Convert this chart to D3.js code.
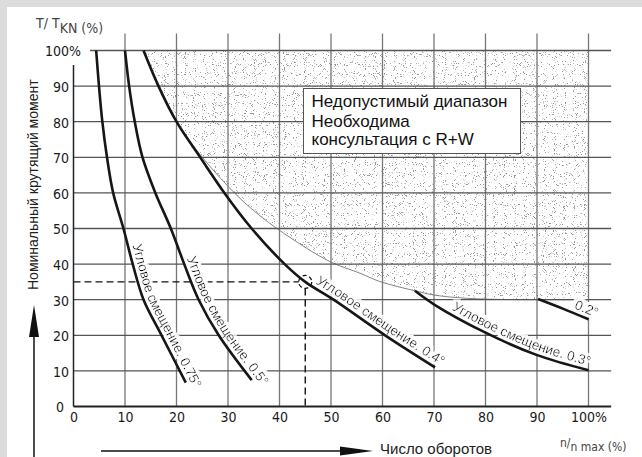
<!DOCTYPE html>
<html>
<head>
<meta charset="utf-8">
<script src="https://cdn.jsdelivr.net/npm/d3@7"></script>
<style>
	body{ margin: 0; background: #dcdcdc; }
	svg{ display: block; }
	.tick text{
		font-family: "DejaVu Sans Condensed", "DejaVu Sans", sans-serif;
		font-size: 14px; fill: #1a1a1a;
	}
	.clabel{ font-family: "Liberation Sans", Arial, sans-serif; font-size: 13.5px; fill: #111; }
</style>
</head>
<body>
<svg id="chart" width="642" height="457"></svg>
<script>
// ticks (percent)
const xTicks = [0, 10, 20, 30, 40, 50, 60, 70, 80, 90, 100];
const yTicks = [0, 10, 20, 30, 40, 50, 60, 70, 80, 90, 100];

// curves: [n/nmax %, T/TKN %]
const curve075 = [[4.4,100],[4.95,90],[5.6,80],[6.5,70],[7.7,60],[9.7,50],[11.5,40],[13.6,30],[17.1,20],[21.8,6.7]];
const curve05  = [[10,100],[10.8,90],[11.9,80],[13.4,70],[15.9,60],[18.9,50],[21.5,40],[24.3,30],[28.2,20],[34.6,7.4]];
const curve04  = [[13.6,100],[16.5,90],[20,80],[24.6,70],[29.3,60],[34.6,50],[41,40],[45,35],[50.5,30],[60.5,20],[70.2,11]];
const curve03  = [[66.3,32.5],[70.2,28.5],[80.2,20.6],[89.9,14.5],[100,10.2]];
const curve02  = [[90.2,30.2],[95,27.5],[100,24.5]];
// lower edge of the forbidden (stippled) range
const limitEdge = [[13.6,100],[16.5,90],[20,80],[23.9,72],[30.1,61.7],[35,55],[41,48.5],[49.8,40.7],[55.7,37.4],[59.5,35.1],[66.3,32.5],[70,31.3],[76.3,30.4],[82,30.1],[90,30],[100,30]];
// example operating point
const markPoint = [45, 35];

const curveLabels = ['Угловое смещение. 0.75°', 'Угловое смещение. 0.5°', 'Угловое смещение. 0.4°', 'Угловое смещение. 0.3°', '0.2°'];
const curveData = [curve075, curve05, curve04, curve03, curve02];
const labelStart = [10.6, 21.2, 46.5, 73, 96.8];   // n/nmax where the label begins

const boxLines = ['Недопустимый диапазон', 'Необходима', 'консультация с R+W'];

const svg = d3.select('#chart');
const x = d3.scaleLinear().domain([0, 100]).range([73.5, 588.5]);
const y = d3.scaleLinear().domain([0, 100]).range([406.5, 50.5]);

svg.append('rect').attr('x', 7).attr('y', 7).attr('width', 635).attr('height', 450).attr('fill', '#fff');

const defs = svg.append('defs');
// stipple texture
const f = defs.append('filter').attr('id', 'stip').attr('x', 0).attr('y', 0).attr('width', 1).attr('height', 1);
f.append('feTurbulence').attr('type', 'fractalNoise').attr('baseFrequency', 1.1)
	.attr('numOctaves', 1).attr('seed', 4).attr('result', 't');
f.append('feColorMatrix').attr('in', 't').attr('type', 'matrix')
	.attr('values', '0 0 0 0 0.3  0 0 0 0 0.3  0 0 0 0 0.3  -12 0 0 0 4.55');
// white halo behind curve labels
const h = defs.append('filter').attr('id', 'halo').attr('x', '-20%').attr('y', '-20%').attr('width', '140%').attr('height', '140%');
h.append('feMorphology').attr('in', 'SourceAlpha').attr('operator', 'dilate').attr('radius', 3).attr('result', 'd');
h.append('feFlood').attr('flood-color', '#fff');
h.append('feComposite').attr('in2', 'd').attr('operator', 'in').attr('result', 'w');
const hm = h.append('feMerge');
hm.append('feMergeNode').attr('in', 'w');
hm.append('feMergeNode').attr('in', 'SourceGraphic');

const line = d3.line().x(d => x(d[0])).y(d => y(d[1])).curve(d3.curveCatmullRom.alpha(0.5));

defs.append('clipPath').attr('id', 'forbid')
	.append('path').attr('d', line(limitEdge) + 'L' + x(100) + ',' + y(100) + 'Z');

svg.append('g').attr('clip-path', 'url(#forbid)')
	.append('rect').attr('x', x(0)).attr('y', y(100)).attr('width', x(100) - x(0)).attr('height', y(0) - y(100))
	.attr('filter', 'url(#stip)');

svg.append('path').attr('d', line(limitEdge)).attr('fill', 'none').attr('stroke', '#666').attr('stroke-width', 0.8);

// grid
const grid = svg.append('g');
grid.selectAll('.vg').data(xTicks.filter(d => d > 0)).enter().append('line')
	.attr('x1', d => x(d)).attr('x2', d => x(d)).attr('y1', y(0)).attr('y2', y(104.8))
	.attr('stroke', '#777').attr('stroke-width', 1.3);
grid.selectAll('.hg').data(yTicks.filter(d => d > 0)).enter().append('line')
	.attr('x1', d => d === 100 ? x(3.2) : x(0)).attr('x2', x(104.4)).attr('y1', d => y(d)).attr('y2', d => y(d))
	.attr('stroke', '#555').attr('stroke-width', 1.3);

// dashed guide to the operating point
const r = 6.5;
svg.append('line').attr('x1', x(0)).attr('x2', x(markPoint[0]) - r).attr('y1', y(markPoint[1])).attr('y2', y(markPoint[1]))
	.attr('stroke', '#111').attr('stroke-width', 1.4).attr('stroke-dasharray', '7,4');
svg.append('line').attr('x1', x(markPoint[0])).attr('x2', x(markPoint[0])).attr('y1', y(markPoint[1]) + r).attr('y2', y(0))
	.attr('stroke', '#111').attr('stroke-width', 1.4).attr('stroke-dasharray', '7,4');

// curve labels along the curves
const lab = svg.append('g');
curveData.forEach((c, i) => {
	const pts = c.map(d => [x(d[0]), y(d[1])]);
	const a = pts[pts.length - 2], b = pts[pts.length - 1];
	const len = Math.hypot(b[0] - a[0], b[1] - a[1]);
	const ext = [b[0] + (b[0] - a[0]) / len * 40, b[1] + (b[1] - a[1]) / len * 40];
	const p = defs.append('path').attr('id', 'lp' + i).attr('d', line(c) + 'L' + ext[0] + ',' + ext[1]);
	const node = p.node(), total = node.getTotalLength(), tx = x(labelStart[i]);
	let lo = 0, hi = total;
	for (let k = 0; k < 30; k++) {
		const m = (lo + hi) / 2;
		if (node.getPointAtLength(m).x < tx) lo = m; else hi = m;
	}
	lab.append('text').attr('class', 'clabel').attr('dy', -4.5).attr('filter', 'url(#halo)')
		.append('textPath').attr('href', '#lp' + i).attr('startOffset', lo)
		.text(curveLabels[i]);
});

// axes lines
svg.append('line').attr('x1', x(0)).attr('x2', x(104.4)).attr('y1', y(0)).attr('y2', y(0))
	.attr('stroke', '#222').attr('stroke-width', 2);
svg.append('line').attr('x1', x(0)).attr('x2', x(0)).attr('y1', y(0)).attr('y2', y(95.9))
	.attr('stroke', '#222').attr('stroke-width', 1.5);

// curves
svg.append('g').selectAll('path').data(curveData).enter().append('path')
	.attr('d', line).attr('fill', 'none').attr('stroke', '#161616').attr('stroke-width', 2.6);

svg.append('circle').attr('cx', x(markPoint[0])).attr('cy', y(markPoint[1])).attr('r', r)
	.attr('fill', 'none').attr('stroke', '#111').attr('stroke-width', 1.3).attr('stroke-dasharray', '4,2.8');

// tick labels
const fmt = d => d === 100 ? '100%' : d;
const gx = svg.append('g').attr('transform', 'translate(0,' + y(0) + ')')
	.call(d3.axisBottom(x).tickValues(xTicks).tickFormat(fmt).tickSize(0).tickPadding(6));
gx.select('.domain').remove();
const gy = svg.append('g').attr('transform', 'translate(' + x(0) + ',0)')
	.call(d3.axisLeft(y).tickValues(yTicks).tickFormat(fmt).tickSize(0).tickPadding(4.5));
gy.select('.domain').remove();
gy.selectAll('.tick text').attr('dy', '0.38em').each(function(d) {
	if (d === 100) d3.select(this).attr('dx', this.getSubStringLength(3, 1));
	if (d === 0) d3.select(this).attr('dx', -5);
});

// box
svg.append('rect').attr('x', 303.5).attr('y', 88.5).attr('width', 217).attr('height', 65)
	.attr('fill', '#fff').attr('stroke', '#555').attr('stroke-width', 1);
svg.append('g').selectAll('text').data(boxLines).enter().append('text')
	.attr('x', 311.5).attr('y', (d, i) => [106.7, 126.5, 145][i])
	.attr('font-family', '"Liberation Sans", Arial, sans-serif').attr('font-size', 17).attr('fill', '#111')
	.text(d => d);

// axis titles
const tt = svg.append('text').attr('x', 36).attr('y', 28)
	.attr('font-family', '"DejaVu Sans Condensed", sans-serif').attr('font-size', 14).attr('fill', '#444');
tt.append('tspan').text('T/ T');
tt.append('tspan').attr('dy', 5).text('KN (%)');

const nt = svg.append('text').attr('x', 560).attr('y', 451)
	.attr('font-family', '"DejaVu Sans Condensed", sans-serif').attr('font-size', 12).attr('fill', '#444');
nt.append('tspan').attr('dy', -4).text('n/');
nt.append('tspan').attr('dy', 4).text('n max (%)');

svg.append('text').attr('transform', 'translate(38,290) rotate(-90)')
	.attr('font-family', '"Liberation Sans", Arial, sans-serif').attr('font-size', 14).attr('fill', '#222')
	.text('Номинальный крутящий момент');
svg.append('text').attr('x', 380).attr('y', 454)
	.attr('font-family', '"Liberation Sans", Arial, sans-serif').attr('font-size', 15).attr('fill', '#222')
	.text('Число оборотов');

// arrows
svg.append('line').attr('x1', 34).attr('x2', 34).attr('y1', 457).attr('y2', 336).attr('stroke', '#111').attr('stroke-width', 1.5);
svg.append('path').attr('d', 'M29,337L39,337L34,305Z').attr('fill', '#111');
svg.append('line').attr('x1', 101).attr('x2', 341).attr('y1', 451).attr('y2', 451).attr('stroke', '#111').attr('stroke-width', 1.5);
svg.append('path').attr('d', 'M340,446.5L340,455.5L373,451Z').attr('fill', '#111');
</script>
</body>
</html>
